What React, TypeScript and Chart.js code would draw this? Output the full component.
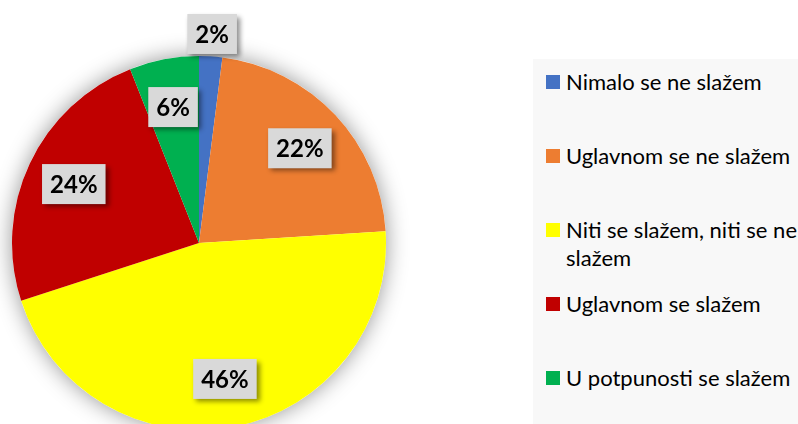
import React, { useEffect, useRef } from "react";
import { Chart, registerables } from "chart.js";

Chart.register(...registerables);

const categories = [
  "Nimalo se ne slažem",
  "Uglavnom se ne slažem",
  "Niti se slažem, niti se ne slažem",
  "Uglavnom se slažem",
  "U potpunosti se slažem",
];
const values = [2, 22, 46, 24, 6];
const colors = ["#4472C4", "#ED7D31", "#FFFF00", "#C00000", "#00B050"];

const shadowPlugin = {
  id: "pieShadow",
  beforeDatasetsDraw(chart: any) {
    const meta = chart.getDatasetMeta(0);
    const arc = meta.data[0];
    if (!arc) return;
    const { x, y, outerRadius } = arc.getProps(["x", "y", "outerRadius"], true);
    const ctx = chart.ctx;
    ctx.save();
    ctx.shadowColor = "rgba(0,0,0,0.42)";
    ctx.shadowBlur = 22;
    ctx.fillStyle = "#ffffff";
    ctx.beginPath();
    ctx.arc(x, y, outerRadius, 0, Math.PI * 2);
    ctx.fill();
    ctx.restore();
  },
};

const LABEL_FONT = "bold 24px Lato";

const labelPlugin = {
  id: "pctLabels",
  afterDatasetsDraw(chart: any) {
    const ctx = chart.ctx;
    const meta = chart.getDatasetMeta(0);
    const data: number[] = chart.data.datasets[0].data;
    const total = data.reduce((a, b) => a + b, 0);
    meta.data.forEach((arc: any, i: number) => {
      const { x, y, startAngle, endAngle, outerRadius } = arc.getProps(
        ["x", "y", "startAngle", "endAngle", "outerRadius"],
        true
      );
      const pct = (data[i] / total) * 100;
      const mid = (startAngle + endAngle) / 2;
      const r = pct < 4 ? outerRadius * 1.12 : outerRadius * 0.74;
      const cx = x + Math.cos(mid) * r;
      const cy = y + Math.sin(mid) * r;
      const text = Math.round(pct) + "%";
      ctx.save();
      ctx.font = LABEL_FONT;
      const tw = ctx.measureText(text).width;
      const w = tw + 16;
      const h = 40;
      ctx.shadowColor = "rgba(0,0,0,0.45)";
      ctx.shadowBlur = 5;
      ctx.shadowOffsetX = 3;
      ctx.shadowOffsetY = 3;
      ctx.fillStyle = "#D9D9D9";
      ctx.fillRect(cx - w / 2, cy - h / 2, w, h);
      ctx.restore();
      ctx.save();
      ctx.font = LABEL_FONT;
      ctx.fillStyle = "#000000";
      ctx.textAlign = "center";
      ctx.textBaseline = "middle";
      ctx.fillText(text, cx, cy + 1);
      ctx.restore();
    });
  },
};

export default function App() {
  const canvasRef = useRef<HTMLCanvasElement>(null);

  useEffect(() => {
    let chart: Chart | null = null;
    let cancelled = false;
    const make = () => {
      if (cancelled || !canvasRef.current) return;
      chart = new Chart(canvasRef.current, {
        type: "pie",
        data: {
          labels: categories,
          datasets: [
            {
              data: values,
              backgroundColor: colors,
              borderWidth: 0,
              hoverOffset: 0,
              offset: 0,
            },
          ],
        },
        options: {
          responsive: false,
          maintainAspectRatio: false,
          animation: false,
          layout: { padding: { left: 12, top: 56, right: 412, bottom: 10 } },
          plugins: {
            legend: { display: false },
            tooltip: { enabled: false },
          },
        },
        plugins: [shadowPlugin, labelPlugin],
      });
    };
    const fonts = (document as any).fonts;
    if (fonts && fonts.load) {
      Promise.all([fonts.load(LABEL_FONT), fonts.load("22px Lato")])
        .catch(() => {})
        .then(make);
    } else {
      make();
    }
    return () => {
      cancelled = true;
      if (chart) chart.destroy();
    };
  }, []);

  return (
    <div
      style={{
        position: "fixed",
        left: 0,
        top: 0,
        width: 798,
        height: 424,
        overflow: "hidden",
        background: "#ffffff",
      }}
    >
      <canvas
        ref={canvasRef}
        width={798}
        height={440}
        style={{ position: "absolute", left: 0, top: 0, width: 798, height: 440 }}
      />
      <div
        style={{
          position: "absolute",
          left: 533,
          top: 59,
          right: 0,
          bottom: 0,
          background: "#F8F8F8",
          fontFamily: "Lato, sans-serif",
          fontSize: 22,
          color: "#000000",
        }}
      >
        {categories.map((c, i) => (
          <div
            key={c}
            style={{
              position: "absolute",
              left: 13,
              top: 9 + 74 * i,
              display: "flex",
              alignItems: "flex-start",
            }}
          >
            <div
              style={{
                width: 14,
                height: 14,
                background: colors[i],
                marginTop: 7,
                marginRight: 6,
                flex: "0 0 auto",
              }}
            />
            <div style={{ width: 260, lineHeight: "28px", whiteSpace: "normal" }}>{c}</div>
          </div>
        ))}
      </div>
    </div>
  );
}
